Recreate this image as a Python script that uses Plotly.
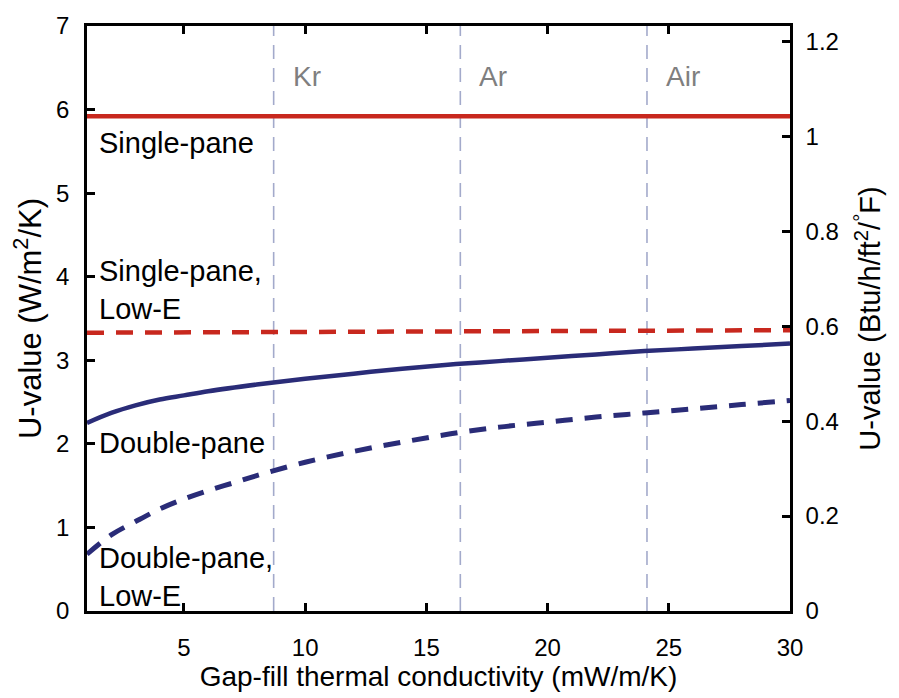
import plotly.graph_objects as go

# Data
x_double = [1, 2, 3, 4, 5, 6, 8, 10, 12, 14, 16, 18, 20, 22, 24, 26, 28, 30]
u_double = [2.25, 2.37, 2.46, 2.53, 2.58, 2.63, 2.71, 2.78, 2.84, 2.90, 2.95, 2.99, 3.03, 3.07, 3.11, 3.14, 3.17, 3.20]

x_double_lowe = [1, 2, 3, 4, 5, 6, 7, 8, 10, 12, 14, 16, 18, 20, 22, 24, 26, 28, 30]
u_double_lowe = [0.68, 0.91, 1.07, 1.22, 1.34, 1.44, 1.53, 1.62, 1.78, 1.91, 2.02, 2.12, 2.20, 2.26, 2.32, 2.37, 2.42, 2.47, 2.52]

x_single = [1, 30]
u_single = [5.92, 5.92]
u_single_lowe = [3.33, 3.36]

gas_names = ["Kr", "Ar", "Air"]
gas_k = [8.7, 16.4, 24.1]

x_ticks = [5, 10, 15, 20, 25, 30]
y_ticks = [0, 1, 2, 3, 4, 5, 6, 7]
y2_ticks = [0, 0.2, 0.4, 0.6, 0.8, 1.0, 1.2]
y2_labels = ["0", "0.2", "0.4", "0.6", "0.8", "1", "1.2"]
W_TO_BTU = 0.17611

labels = ["Single-pane", "Single-pane,<br>Low-E", "Double-pane", "Double-pane,<br>Low-E"]
label_y = [5.60, 3.84, 2.01, 0.41]

FONT = "Liberation Sans, Arial, Helvetica, sans-serif"
RED = "#c8281e"
BLUE = "#2a2c78"
GRID = "#a3aacb"

fig = go.Figure()

for k in gas_k:
    fig.add_trace(go.Scatter(x=[k, k], y=[0, 7], mode="lines",
                             line=dict(color=GRID, width=1.6, dash="14px,9px"),
                             hoverinfo="skip", showlegend=False))

fig.add_trace(go.Scatter(x=x_single, y=u_single, mode="lines",
                         line=dict(color=RED, width=4.5), showlegend=False))
fig.add_trace(go.Scatter(x=x_single, y=u_single_lowe, mode="lines",
                         line=dict(color=RED, width=4.5, dash="17px,12px"), showlegend=False))
fig.add_trace(go.Scatter(x=x_double, y=u_double, mode="lines", line_shape="spline",
                         line=dict(color=BLUE, width=4.5), showlegend=False))
fig.add_trace(go.Scatter(x=x_double_lowe, y=u_double_lowe, mode="lines", line_shape="spline",
                         line=dict(color=BLUE, width=5, dash="17px,12px"), showlegend=False))

# invisible trace for secondary axis
fig.add_trace(go.Scatter(x=x_single, y=[v * W_TO_BTU for v in u_single], yaxis="y2",
                         mode="markers", marker=dict(opacity=0), hoverinfo="skip",
                         showlegend=False))

for name, k in zip(gas_names, gas_k):
    fig.add_annotation(x=k, y=6.39, text=name, showarrow=False, xanchor="left",
                       yanchor="middle", xshift=17,
                       font=dict(family=FONT, size=28, color="#7f7f7f"))

for t, yv in zip(labels, label_y):
    fig.add_annotation(x=1, y=yv, text=t, showarrow=False, xanchor="left",
                       yanchor="middle", xshift=10, align="left",
                       font=dict(family=FONT, size=29, color="black"))

axis_common = dict(showline=True, linecolor="black", linewidth=2.5,
                   ticks="inside", ticklen=8, tickwidth=2.5, tickcolor="black",
                   showgrid=False, zeroline=False,
                   tickfont=dict(family=FONT, size=24, color="black"))

fig.update_layout(
    width=899, height=698,
    margin=dict(l=87, r=109, t=18, b=85),
    paper_bgcolor="white", plot_bgcolor="white",
    xaxis=dict(range=[1, 30], tickvals=x_ticks, mirror="ticks",
               ticklabelstandoff=13,
               title=dict(text="Gap-fill thermal conductivity (mW/m/K)",
                          font=dict(family=FONT, size=28, color="black"), standoff=6),
               **axis_common),
    yaxis=dict(range=[0, 7], tickvals=y_ticks, ticklabelstandoff=10,
               title=dict(text="U-value (W/m<sup>2</sup>/K)",
                          font=dict(family=FONT, size=31, color="black"), standoff=6),
               **axis_common),
    yaxis2=dict(range=[0, 7 * W_TO_BTU], tickvals=y2_ticks, ticktext=y2_labels,
                overlaying="y", side="right", ticklabelstandoff=8,
                title=dict(text="U-value (Btu/h/ft<sup>2</sup>/<sup>°</sup>F)",
                           font=dict(family=FONT, size=29, color="black"), standoff=22),
                **axis_common),
)

fig.write_html("out.html")
